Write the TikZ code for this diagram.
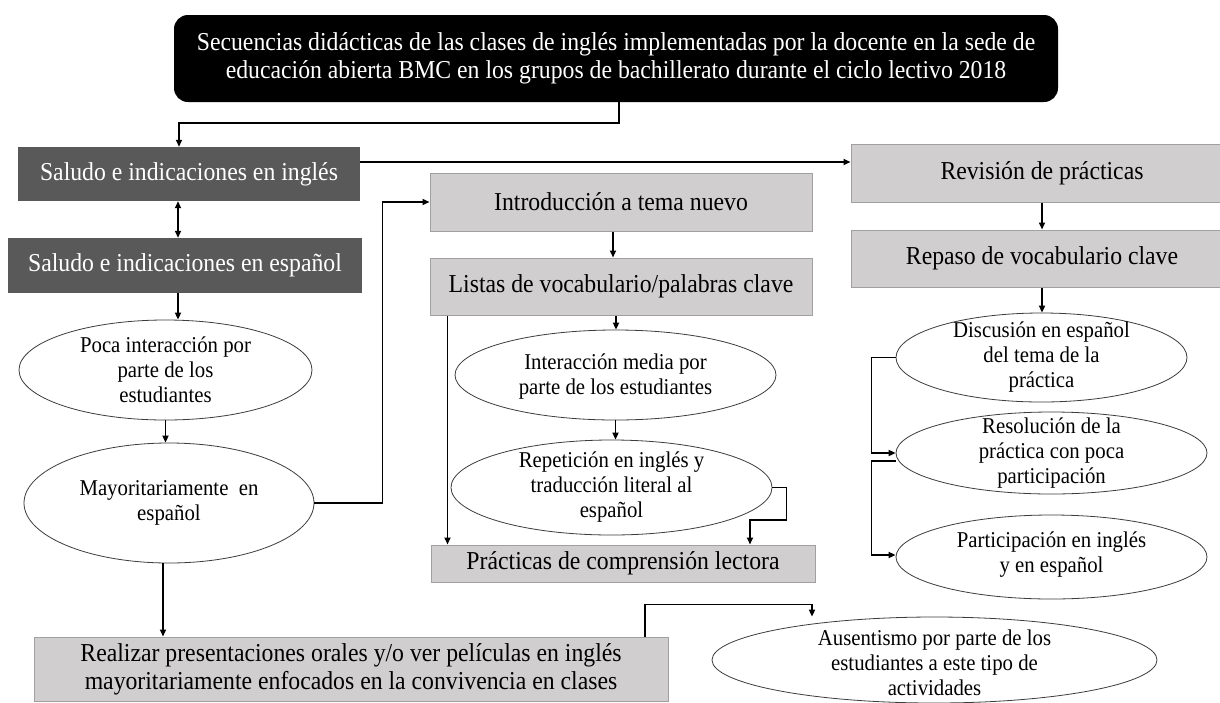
\documentclass[tikz,border=0pt]{standalone}
\usepackage{fontspec}
\setmainfont{Liberation Serif}[FakeStretch=0.92]
\usetikzlibrary{shapes.geometric,arrows.meta}
\definecolor{dgray}{RGB}{89,89,89}
\definecolor{lgray}{RGB}{208,206,206}
\definecolor{lborder}{RGB}{160,160,160}
\definecolor{eborder}{RGB}{60,60,60}
\tikzset{
  bigtxt/.style={font=\fontsize{25.8}{28}\selectfont, align=center},
  smalltxt/.style={font=\fontsize{22.6}{25}\selectfont, align=center},
  topbox/.style={rectangle, rounded corners=14pt, fill=black, text=white, inner sep=0pt, bigtxt},
  darkbox/.style={rectangle, fill=dgray, text=white, inner sep=0pt, bigtxt},
  lightbox/.style={rectangle, fill=lgray, draw=lborder, line width=1pt, text=black, inner sep=0pt, bigtxt},
  ell/.style={ellipse, draw=eborder, line width=0.8pt, fill=white, inner sep=0pt},
  arr/.style={line width=1.7pt, -{Triangle[length=7pt,width=6pt]}},
  darr/.style={line width=1.7pt, {Triangle[length=7pt,width=6pt]}-{Triangle[length=7pt,width=6pt]}},
}
\begin{document}
\begin{tikzpicture}[x=1pt,y=-1pt]
\useasboundingbox[fill=white] (0,0) rectangle (1220,702);
% boxes
\node[topbox, minimum width=884pt, minimum height=87pt] (top) at (616,58.5)
  {Secuencias didácticas de las clases de inglés implementadas por la docente en la sede de\\educación abierta BMC en los grupos de bachillerato durante el ciclo lectivo 2018};
\node[darkbox, minimum width=342pt, minimum height=54pt] (sin) at (189,174) {Saludo e indicaciones en inglés};
\node[darkbox, minimum width=354pt, minimum height=55pt] (ses) at (185,265.5) {Saludo e indicaciones en español};
\node[lightbox, minimum width=382pt, minimum height=58pt] (intro) at (621,202) {Introducción a tema nuevo};
\node[lightbox, minimum width=382pt, minimum height=57pt] (listas) at (621,286.5) {Listas de vocabulario/palabras clave};
\node[lightbox, minimum width=384pt, minimum height=37pt] (prac) at (623,563.5) {Prácticas de comprensión lectora};
\node[lightbox, minimum width=634pt, minimum height=64pt] (realizar) at (351,669)
  {Realizar presentaciones orales y/o ver películas en inglés\\mayoritariamente enfocados en la convivencia en clases};
\node[lightbox, minimum width=382pt, minimum height=58pt] (revision) at (1042,173) {Revisión de prácticas};
\node[lightbox, minimum width=382pt, minimum height=57pt] (repaso) at (1042,258.5) {Repaso de vocabulario clave};
% ellipses
\node[ell, minimum width=293pt, minimum height=100pt] (poca) at (165.5,370) {};
\node[smalltxt] (pocat) at (poca.center) {Poca interacción por\\parte de los\\estudiantes};
\node[ell, minimum width=290pt, minimum height=120pt] (mayor) at (169,503) {};
\node[smalltxt] (mayort) at (mayor.center) {Mayoritariamente \ en\\español};
\node[ell, minimum width=321pt, minimum height=90pt] (inter) at (615.5,375) {};
\node[smalltxt] (intert) at ([yshift=-2pt]inter.center) {Interacción media por\\parte de los estudiantes};
\node[ell, minimum width=321pt, minimum height=95pt] (rep) at (611.5,487.5) {};
\node[smalltxt] (rept) at (rep.center) {Repetición en inglés y\\traducción literal al\\español};
\node[ell, minimum width=291pt, minimum height=89pt] (disc) at (1041.5,357.5) {};
\node[smalltxt] (disct) at (disc.center) {Discusión en español\\del tema de la\\práctica};
\node[ell, minimum width=311pt, minimum height=82pt] (resol) at (1051.5,453) {};
\node[smalltxt] (resolt) at (resol.center) {Resolución de la\\práctica con poca\\participación};
\node[ell, minimum width=311pt, minimum height=84pt] (partic) at (1051.5,557) {};
\node[smalltxt] (partict) at ([yshift=2pt]partic.center) {Participación en inglés\\y en español};
\node[ell, minimum width=445pt, minimum height=86pt] (ausent) at (934.5,660) {};
\node[smalltxt] (ausentt) at ([yshift=-3pt]ausent.center) {Ausentismo por parte de los\\estudiantes a este tipo de\\actividades};
% connectors
\draw[arr] ([xshift=3pt]top.south) -- ++(0,21) -| ([xshift=-10pt]sin.north);
\draw[darr] ([xshift=-11pt]sin.south) -- ([xshift=-11pt]sin.south |- ses.north);
\draw[arr] ([xshift=-7pt]ses.south) -- ([xshift=-7pt]ses.south |- poca.north);
\draw[arr] (poca.south) -- (poca.south |- mayor.north);
\draw[arr] (mayor.east) -- ++(68,0) |- (intro.west);
\draw[arr] ([xshift=-6pt]mayor.south) -- ([xshift=-6pt]mayor.south |- realizar.north);
\draw[arr] ([yshift=12pt]sin.east) -- ([yshift=12pt]sin.east -| revision.west);
\draw[arr] ([xshift=-8pt]intro.south) -- ([xshift=-8pt]intro.south |- listas.north);
\draw[arr] ([xshift=-5pt]listas.south) -- ([xshift=-5pt]listas.south |- inter.north);
\draw[arr] (inter.south) -- (inter.south |- rep.north);
\draw[arr] ([xshift=18pt]listas.south west) -- ([xshift=18pt]listas.south west |- prac.north);
\draw[arr] (rep.east) -- ++(14,0) -- ++(0,32.5) -| ([xshift=127pt]prac.north);
\draw[arr] ([xshift=294pt]realizar.north) -- ++(0,-32) -| ([xshift=-122.5pt]ausent.north);
\draw[arr] (revision.south) -- (repaso.north);
\draw[arr] (repaso.south) -- (repaso.south |- disc.north);
\draw[arr] (disc.west) -- ++(-24,0) |- (resol.west);
\draw[arr] ([yshift=-8pt]resol.west) -- ++(-24,0) |- ([yshift=2pt]partic.west);
\end{tikzpicture}
\end{document}
